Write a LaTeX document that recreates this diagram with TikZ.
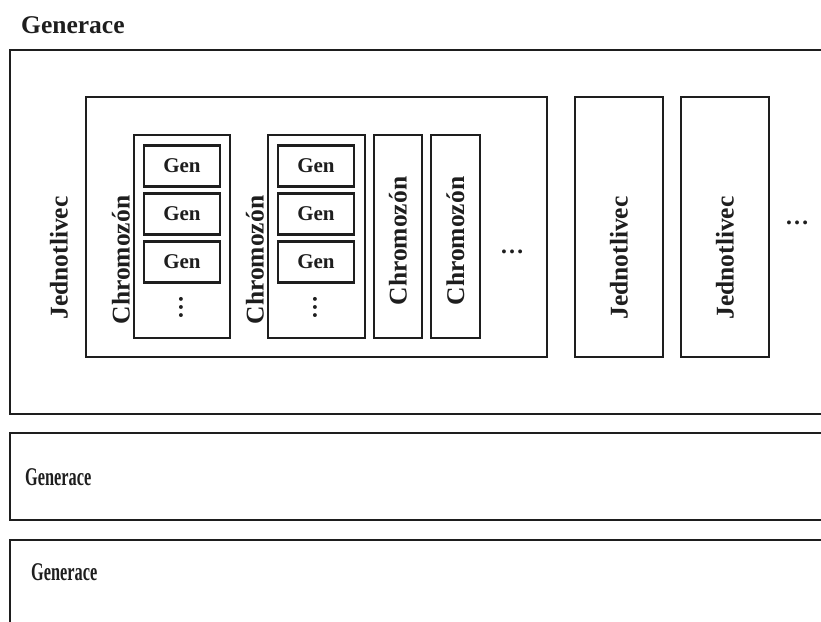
\documentclass[tikz,border=0pt]{standalone}
\usepackage{fontspec}
\setmainfont{Liberation Serif}
\definecolor{ink}{HTML}{1E1E1E}
\tikzset{
  box/.style={draw=ink, line width=2.4pt, rectangle, inner sep=0pt, outer sep=0pt},
  biglab/.style={font=\bfseries\fontsize{25.5}{30}\selectfont, text=ink, inner sep=0pt},
  genlab/.style={font=\bfseries\fontsize{21}{25}\selectfont, text=ink, inner sep=0pt},
  vlab/.style={biglab, rotate=90},
  dots/.style={font=\bfseries\fontsize{24}{28}\selectfont, text=ink, inner sep=0pt},
}
\begin{document}
\begin{tikzpicture}[x=1pt,y=-1pt]
\useasboundingbox (0,0) rectangle (821,621);
\fill[white] (0,0) rectangle (821,621);
\clip (0,0) rectangle (821,621);

% generation label
\node[biglab, anchor=base west] (genlabA) at (21,33) {Generace};

% generation boxes (open to the right / bottom)
\node[box, minimum width=830, minimum height=364] (genA) at (425,232) {};
\node[box, minimum width=830, minimum height=87] (genB) at (425,476.5) {};
\node[box, minimum width=830, minimum height=160] (genC) at (425,620) {};

\node[biglab, anchor=base west] (genlabB) at (25,485) {\scalebox{0.64}[1]{Generace}};
\node[biglab, anchor=base west] (genlabC) at (31,580) {\scalebox{0.64}[1]{Generace}};

% individual 1
\node[box, minimum width=461, minimum height=260] (indA) at (316.5,227) {};
\node[vlab] (indlabA) at (59,258) {Jednotlivec};

% chromosome 1
\node[box, minimum width=96, minimum height=203] (chrA) at (182,236.5) {};
\node[vlab] (chrlabA) at (121,260) {Chromozón};
\node[box, minimum width=76, minimum height=41] (gA1) at (182,166) {};
\node[box, minimum width=76, minimum height=41] (gA2) at (182,214) {};
\node[box, minimum width=76, minimum height=41] (gA3) at (182,262) {};
\node[genlab] at (gA1) {Gen};
\node[genlab] at (gA2) {Gen};
\node[genlab] at (gA3) {Gen};
\node[dots, rotate=90] (vdA) at (181,307) {…};

% chromosome 2
\node[box, minimum width=97, minimum height=203] (chrB) at (316.5,236.5) {};
\node[vlab] (chrlabB) at (255,260) {Chromozón};
\node[box, minimum width=76, minimum height=41] (gB1) at (316,166) {};
\node[box, minimum width=76, minimum height=41] (gB2) at (316,214) {};
\node[box, minimum width=76, minimum height=41] (gB3) at (316,262) {};
\node[genlab] at (gB1) {Gen};
\node[genlab] at (gB2) {Gen};
\node[genlab] at (gB3) {Gen};
\node[dots, rotate=90] (vdB) at (315,307) {…};

% chromosomes 3 and 4
\node[box, minimum width=48, minimum height=203] (chrC) at (398,236.5) {};
\node[vlab] at (chrC.center |- 0,241) {Chromozón};
\node[box, minimum width=49, minimum height=203] (chrD) at (455.5,236.5) {};
\node[vlab] at (chrD.center |- 0,241) {Chromozón};
\node[dots] (hdA) at (512,252) {…};

% individuals 2 and 3
\node[box, minimum width=88, minimum height=260] (indB) at (619,227) {};
\node[vlab] at (indB.center |- 0,258) {Jednotlivec};
\node[box, minimum width=88, minimum height=260] (indC) at (725,227) {};
\node[vlab] at (indC.center |- 0,258) {Jednotlivec};
\node[dots] (hdB) at (797,223) {…};
\end{tikzpicture}
\end{document}
